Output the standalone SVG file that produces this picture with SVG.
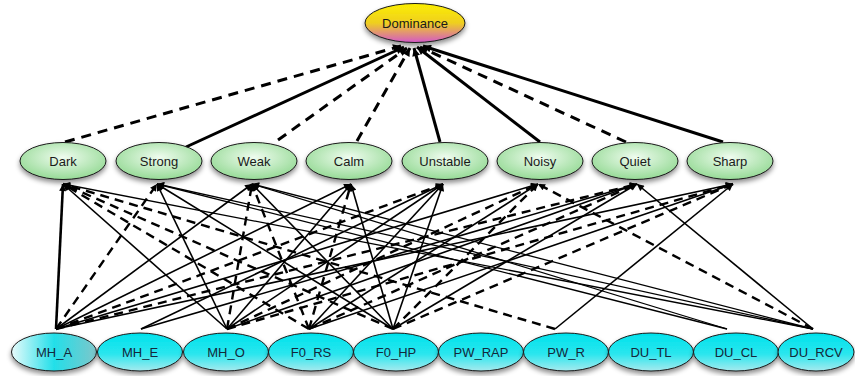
<svg xmlns="http://www.w3.org/2000/svg" width="855" height="376" viewBox="0 0 855 376">
<defs>
<linearGradient id="gDom" x1="0" y1="0" x2="0" y2="1">
<stop offset="0" stop-color="#fbee00"/><stop offset="0.5" stop-color="#efcf20"/><stop offset="1" stop-color="#d458c8"/>
</linearGradient>
<radialGradient id="gGreen" cx="0.5" cy="0.4" r="0.6">
<stop offset="0" stop-color="#effcef"/><stop offset="1" stop-color="#96da96"/>
</radialGradient>
<linearGradient id="gCyan" x1="0" y1="0" x2="0" y2="1">
<stop offset="0" stop-color="#00e2ec"/><stop offset="0.55" stop-color="#2ae6ee"/><stop offset="1" stop-color="#a6eaee"/>
</linearGradient>
<linearGradient id="gCyanA" x1="0" y1="0" x2="1" y2="0">
<stop offset="0" stop-color="#e8fbfb"/><stop offset="0.5" stop-color="#22dfe9"/><stop offset="1" stop-color="#7ec6ca"/>
</linearGradient>
<filter id="sh" x="-20%" y="-30%" width="140%" height="170%">
<feDropShadow dx="0" dy="3" stdDeviation="2.5" flood-color="#000" flood-opacity="0.45"/>
</filter>
<marker id="ah" viewBox="0 0 10 10" refX="10" refY="5" markerWidth="9" markerHeight="7" orient="auto" markerUnits="userSpaceOnUse">
<path d="M0,0 L10,5 L0,10 z" fill="#000"/>
</marker>
<marker id="ahT" viewBox="0 0 10 10" refX="10" refY="5" markerWidth="11" markerHeight="8" orient="auto" markerUnits="userSpaceOnUse">
<path d="M0,0 L10,5 L0,10 z" fill="#000"/>
</marker>
</defs>
<style>
.n ellipse{stroke:#1a1a1a;stroke-width:1;filter:url(#sh)}
.dom ellipse{fill:url(#gDom)}
.mid ellipse{fill:url(#gGreen)}
.bot ellipse{fill:url(#gCyan)}
text{font-family:"Liberation Sans",Arial,sans-serif;font-size:13px;fill:#1a1a1a;text-anchor:middle;dominant-baseline:central}
.bot text{fill:#14283a}
#edges line{stroke:#000;fill:none;marker-end:url(#ah);stroke-width:1.6}
#edges .t{stroke-width:3;marker-end:url(#ahT)}
#edges .d{stroke-dasharray:9 6;stroke-width:2.4}
#edges .k{stroke-width:2.6}
#edges .td{stroke-width:3;stroke-dasharray:10 7;marker-end:url(#ahT)}
#edges .th{stroke-width:1.3}
</style>
<g id="edges">
<!-- middle to Dominance -->
<line class="td" x1="65" y1="142" x2="401" y2="46"/>
<line class="t" x1="186" y1="147" x2="404" y2="47"/>
<line class="td" x1="278" y1="140" x2="407" y2="48"/>
<line class="td" x1="357" y1="141" x2="410" y2="48"/>
<line class="t" x1="440" y1="142" x2="414" y2="48"/>
<line class="t" x1="540" y1="142" x2="417" y2="47"/>
<line class="td" x1="626" y1="142" x2="420" y2="47"/>
<line class="t" x1="723" y1="142" x2="423" y2="46"/>
<!-- bottom to middle: Dark (63) -->
<line class="k" x1="56" y1="329" x2="63" y2="184"/>
<line x1="227" y1="329" x2="63" y2="184"/>
<line class="d" x1="309" y1="329" x2="63" y2="184"/>
<line class="d" x1="393" y1="329" x2="63" y2="184"/>
<line class="d" x1="555" y1="329" x2="63" y2="184"/>
<line class="th" x1="813" y1="329" x2="63" y2="184"/>
<!-- Strong (157) -->
<line class="d" x1="56" y1="329" x2="157" y2="184"/>
<line x1="227" y1="329" x2="157" y2="184"/>
<line x1="393" y1="329" x2="157" y2="184"/>
<line class="th" x1="727" y1="329" x2="157" y2="184"/>
<line class="th" x1="813" y1="329" x2="157" y2="184"/>
<!-- Weak (252) -->
<line x1="56" y1="329" x2="252" y2="184"/>
<line class="d" x1="227" y1="329" x2="252" y2="184"/>
<line class="d" x1="309" y1="329" x2="252" y2="184"/>
<line x1="393" y1="329" x2="252" y2="184"/>
<line class="th" x1="727" y1="329" x2="252" y2="184"/>
<line class="th" x1="813" y1="329" x2="252" y2="184"/>
<!-- Calm (351) -->
<line x1="56" y1="329" x2="351" y2="184"/>
<line x1="227" y1="329" x2="351" y2="184"/>
<line class="d" x1="309" y1="329" x2="351" y2="184"/>
<line x1="393" y1="329" x2="351" y2="184"/>
<!-- Unstable (443) -->
<line class="d" x1="56" y1="329" x2="443" y2="184"/>
<line x1="141" y1="329" x2="443" y2="184"/>
<line x1="227" y1="329" x2="443" y2="184"/>
<line x1="309" y1="329" x2="443" y2="184"/>
<line x1="393" y1="329" x2="443" y2="184"/>
<!-- Noisy (538) -->
<line x1="56" y1="329" x2="538" y2="184"/>
<line class="d" x1="227" y1="329" x2="538" y2="184"/>
<line x1="309" y1="329" x2="538" y2="184"/>
<line class="d" x1="393" y1="329" x2="538" y2="184"/>
<line class="d" x1="813" y1="329" x2="538" y2="184"/>
<!-- Quiet (637) -->
<line class="d" x1="56" y1="329" x2="637" y2="184"/>
<line x1="141" y1="329" x2="637" y2="184"/>
<line x1="227" y1="329" x2="637" y2="184"/>
<line class="d" x1="309" y1="329" x2="637" y2="184"/>
<line x1="393" y1="329" x2="637" y2="184"/>
<line x1="813" y1="329" x2="637" y2="184"/>
<!-- Sharp (733) -->
<line x1="56" y1="329" x2="733" y2="184"/>
<line class="d" x1="227" y1="329" x2="733" y2="184"/>
<line x1="309" y1="329" x2="733" y2="184"/>
<line class="d" x1="393" y1="329" x2="733" y2="184"/>
<line x1="555" y1="329" x2="733" y2="184"/>
</g>
<g id="Dominance" class="n dom"><ellipse cx="415" cy="23" rx="50" ry="19.5"/><text x="415" y="23">Dominance</text></g>
<g id="Dark" class="n mid"><ellipse cx="63" cy="161" rx="43" ry="18.5"/><text x="63" y="161">Dark</text></g>
<g id="Strong" class="n mid"><ellipse cx="159" cy="161" rx="43" ry="18.5"/><text x="159" y="161">Strong</text></g>
<g id="Weak" class="n mid"><ellipse cx="254" cy="161" rx="43" ry="18.5"/><text x="254" y="161">Weak</text></g>
<g id="Calm" class="n mid"><ellipse cx="349" cy="161" rx="43" ry="18.5"/><text x="349" y="161">Calm</text></g>
<g id="Unstable" class="n mid"><ellipse cx="445" cy="161" rx="43" ry="18.5"/><text x="445" y="161">Unstable</text></g>
<g id="Noisy" class="n mid"><ellipse cx="540" cy="161" rx="43" ry="18.5"/><text x="540" y="161">Noisy</text></g>
<g id="Quiet" class="n mid"><ellipse cx="635" cy="161" rx="43" ry="18.5"/><text x="635" y="161">Quiet</text></g>
<g id="Sharp" class="n mid"><ellipse cx="730" cy="161" rx="43" ry="18.5"/><text x="730" y="161">Sharp</text></g>
<g id="MH_A" class="n bot"><ellipse cx="54" cy="352" rx="42.5" ry="19" style="fill:url(#gCyanA)"/><text x="54" y="352">MH_A</text></g>
<g id="MH_E" class="n bot"><ellipse cx="140" cy="352" rx="42.5" ry="19"/><text x="140" y="352">MH_E</text></g>
<g id="MH_O" class="n bot"><ellipse cx="226" cy="352" rx="42.5" ry="19"/><text x="226" y="352">MH_O</text></g>
<g id="F0_RS" class="n bot"><ellipse cx="311" cy="352" rx="42.5" ry="19"/><text x="311" y="352">F0_RS</text></g>
<g id="F0_HP" class="n bot"><ellipse cx="396" cy="352" rx="42.5" ry="19"/><text x="396" y="352">F0_HP</text></g>
<g id="PW_RAP" class="n bot"><ellipse cx="481" cy="352" rx="42.5" ry="19"/><text x="481" y="352">PW_RAP</text></g>
<g id="PW_R" class="n bot"><ellipse cx="566" cy="352" rx="42.5" ry="19"/><text x="566" y="352">PW_R</text></g>
<g id="DU_TL" class="n bot"><ellipse cx="651" cy="352" rx="42.5" ry="19"/><text x="651" y="352">DU_TL</text></g>
<g id="DU_CL" class="n bot"><ellipse cx="736" cy="352" rx="42.5" ry="19"/><text x="736" y="352">DU_CL</text></g>
<g id="DU_RCV" class="n bot"><ellipse cx="816" cy="352" rx="38" ry="19"/><text x="816" y="352">DU_RCV</text></g>
</svg>
